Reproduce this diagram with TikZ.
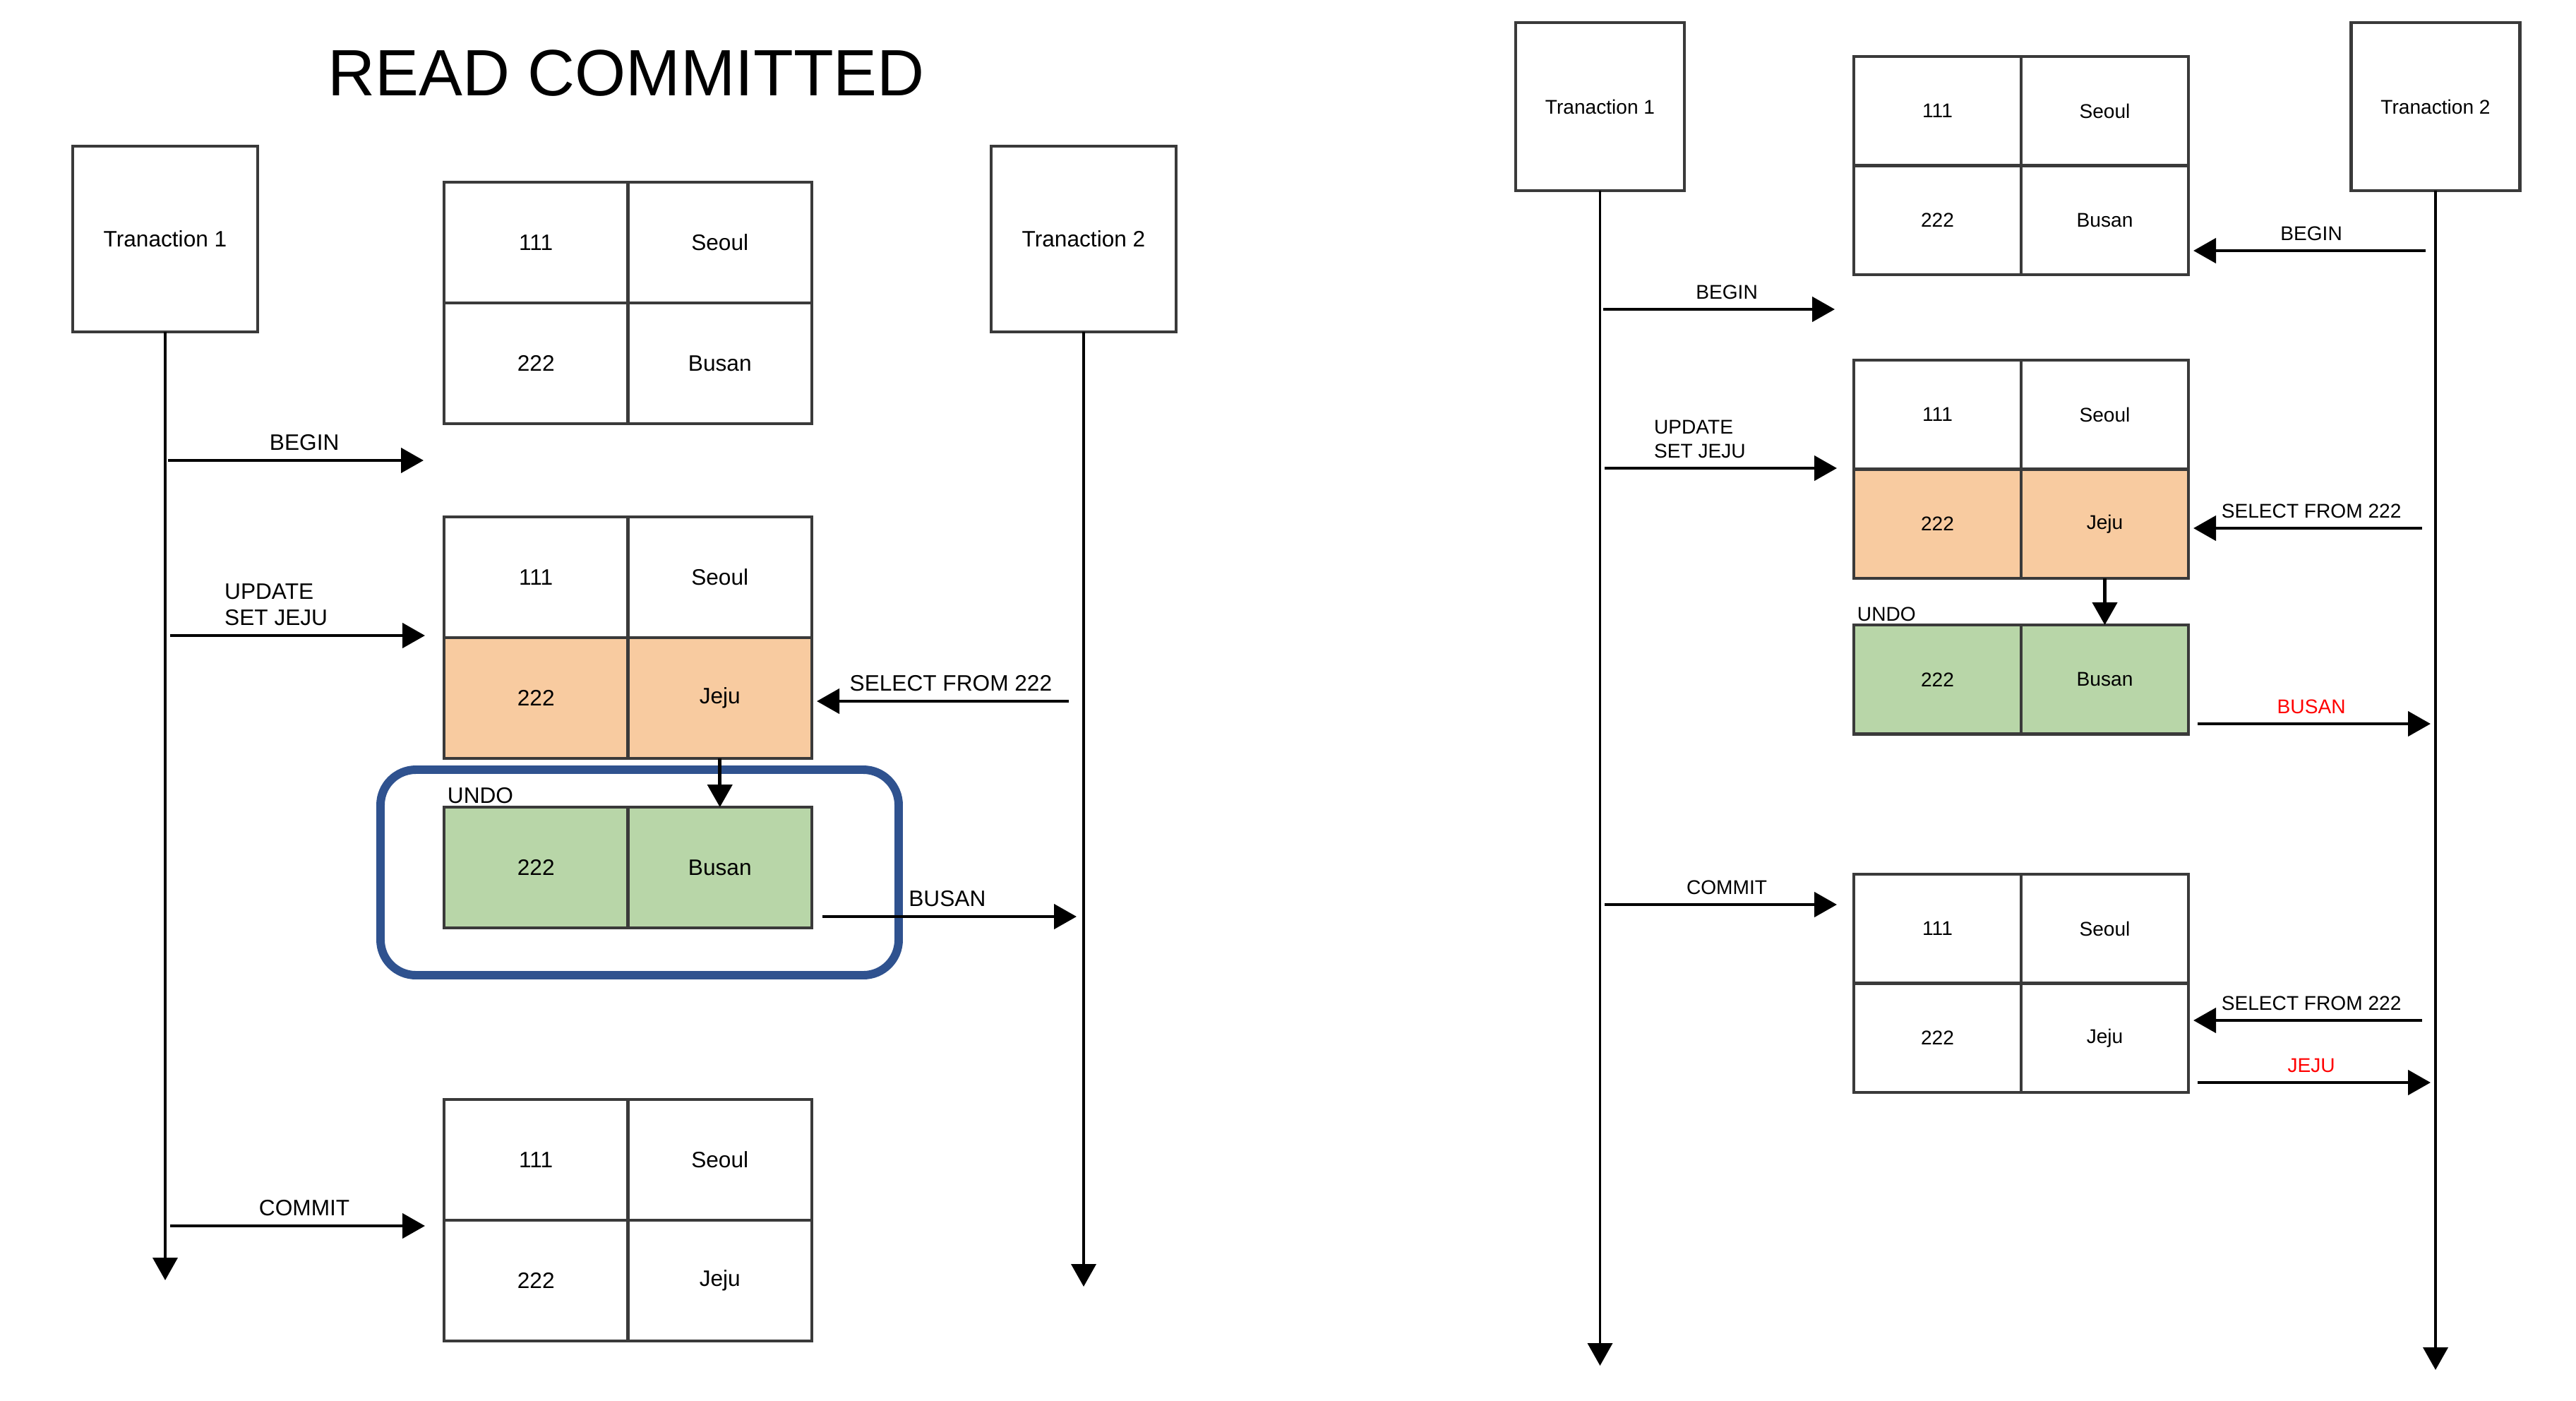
\documentclass[tikz,border=0pt]{standalone}
\usepackage{fontspec}
\setmainfont{Liberation Sans}
\usetikzlibrary{arrows.meta, positioning}
\definecolor{bordeGris}{HTML}{3A3A3A}
\definecolor{naranjaCelda}{HTML}{F8CBA0}
\definecolor{verdeCelda}{HTML}{B8D6A8}
\definecolor{azulMarco}{HTML}{2F528F}
\definecolor{rojoTexto}{HTML}{FF0000}
\tikzset{
  celda/.style={draw=bordeGris, line width=1.2pt, outer sep=0pt, inner sep=0pt,
    fill=white, text=black},
  celdaIzq/.style={celda, minimum width=2.605cm, minimum height=1.71cm,
    font=\fontsize{9}{11}\selectfont},
  celdaDer/.style={celda, minimum width=2.37cm, minimum height=1.545cm,
    font=\fontsize{8}{10}\selectfont},
  celdaNaranja/.style={fill=naranjaCelda},
  celdaVerde/.style={fill=verdeCelda},
  cajaTx/.style={draw=bordeGris, line width=1.2pt, outer sep=0pt, align=center},
  cajaTxIzq/.style={cajaTx, minimum width=2.62cm, minimum height=2.63cm,
    font=\fontsize{9}{11}\selectfont},
  cajaTxDer/.style={cajaTx, minimum width=2.39cm, minimum height=2.38cm,
    font=\fontsize{8}{10}\selectfont},
  titulo/.style={font=\fontsize{26.4}{30}\selectfont},
  vida/.style={-{Triangle[length=3.2mm, width=3.5mm]}, line width=1.1pt, black},
  flecha/.style={-{Triangle[length=3.2mm, width=3.5mm]}, line width=1.3pt, black},
  etiquetaIzq/.style={font=\fontsize{9}{10.5}\selectfont, align=left},
  etiquetaDer/.style={font=\fontsize{8}{9.7}\selectfont, align=left},
  etiquetaRoja/.style={etiquetaDer, text=rojoTexto},
  marcoUndo/.style={draw=azulMarco, line width=3.4pt, rounded corners=0.5cm,
    minimum width=7.34cm, minimum height=2.91cm},
}
\begin{document}
\begin{tikzpicture}
  \fill[white] (0,0) rectangle (36.49,-19.83);

  % ---------------- READ COMMITTED (izquierda)
  \node[titulo] (titulo) at (8.87,-1.04) {READ COMMITTED};
  \node[cajaTxIzq] (txA1) at (2.34,-3.385) {Tranaction 1};
  \node[cajaTxIzq] (txA2) at (15.35,-3.385) {Tranaction 2};
  \coordinate (finA1) at (2.34,-18.13);
  \coordinate (finA2) at (15.35,-18.22);
  \draw[vida] (txA1) -- (finA1);
  \draw[vida] (txA2) -- (finA2);

  \node[celdaIzq, anchor=north west] (a1n1) at (6.29,-2.58) {111};
  \node[celdaIzq, right=0pt of a1n1] (a1c1) {Seoul};
  \node[celdaIzq, below=0pt of a1n1] (a1n2) {222};
  \node[celdaIzq, right=0pt of a1n2] (a1c2) {Busan};

  \node[celdaIzq, anchor=north west] (a2n1) at (6.29,-7.32) {111};
  \node[celdaIzq, right=0pt of a2n1] (a2c1) {Seoul};
  \node[celdaIzq, celdaNaranja, below=0pt of a2n1] (a2n2) {222};
  \node[celdaIzq, celdaNaranja, right=0pt of a2n2] (a2c2) {Jeju};

  \node[marcoUndo] (marco) at (9.06,-12.355) {};
  \node[celdaIzq, celdaVerde, anchor=north west] (a3n1) at (6.29,-11.43) {222};
  \node[celdaIzq, celdaVerde, right=0pt of a3n1] (a3c1) {Busan};
  \node[etiquetaIzq, anchor=south west, inner sep=1.2pt] (undoA) at (a3n1.north west) {UNDO};

  \node[celdaIzq, anchor=north west] (a4n1) at (6.29,-15.57) {111};
  \node[celdaIzq, right=0pt of a4n1] (a4c1) {Seoul};
  \node[celdaIzq, below=0pt of a4n1] (a4n2) {222};
  \node[celdaIzq, right=0pt of a4n2] (a4c2) {Jeju};

  \coordinate (begA) at (2.38,-6.52);
  \coordinate (updA) at (2.41,-9.00);
  \coordinate (selA) at (15.14,-9.93);
  \coordinate (busA) at (11.65,-12.98);
  \coordinate (comA) at (2.41,-17.36);
  \draw[flecha, shorten >=2.9mm] (begA) -- node[etiquetaIzq, pos=.494, above] {BEGIN} (begA -| a1n1.west);
  \draw[flecha, shorten >=2.7mm] (updA) -- node[etiquetaIzq, pos=.387, above] {UPDATE\\SET JEJU} (updA -| a2n1.west);
  \draw[flecha, shorten >=2pt] (selA) -- node[etiquetaIzq, pos=.459, above] {SELECT FROM 222} (selA -| a2c2.east);
  \draw[flecha] (a2c2.south) -- (a3c1.north);
  \draw[flecha, shorten >=1mm] (busA) -- node[etiquetaIzq, pos=.478, above] {BUSAN} (busA -| txA2);
  \draw[flecha, shorten >=2.7mm] (comA) -- node[etiquetaIzq, pos=.49, above] {COMMIT} (comA -| a4n1.west);

  % ---------------- segundo caso (derecha)
  \node[cajaTxDer] (txB1) at (22.665,-1.51) {Tranaction 1};
  \node[cajaTxDer] (txB2) at (34.50,-1.51) {Tranaction 2};
  \coordinate (finB1) at (22.665,-19.34);
  \coordinate (finB2) at (34.50,-19.40);
  \draw[vida] (txB1) -- (finB1);
  \draw[vida] (txB2) -- (finB2);

  \node[celdaDer, anchor=north west] (b1n1) at (26.26,-0.80) {111};
  \node[celdaDer, right=0pt of b1n1] (b1c1) {Seoul};
  \node[celdaDer, below=0pt of b1n1] (b1n2) {222};
  \node[celdaDer, right=0pt of b1n2] (b1c2) {Busan};

  \node[celdaDer, anchor=north west] (b2n1) at (26.26,-5.10) {111};
  \node[celdaDer, right=0pt of b2n1] (b2c1) {Seoul};
  \node[celdaDer, celdaNaranja, below=0pt of b2n1] (b2n2) {222};
  \node[celdaDer, celdaNaranja, right=0pt of b2n2] (b2c2) {Jeju};

  \node[celdaDer, celdaVerde, anchor=north west] (b3n1) at (26.26,-8.85) {222};
  \node[celdaDer, celdaVerde, right=0pt of b3n1] (b3c1) {Busan};
  \node[etiquetaDer, anchor=south west, inner sep=1.2pt] (undoB) at (b3n1.north west) {UNDO};

  \node[celdaDer, anchor=north west] (b4n1) at (26.26,-12.38) {111};
  \node[celdaDer, right=0pt of b4n1] (b4c1) {Seoul};
  \node[celdaDer, below=0pt of b4n1] (b4n2) {222};
  \node[celdaDer, right=0pt of b4n2] (b4c2) {Jeju};

  \coordinate (begB2) at (34.36,-3.55);
  \coordinate (begB1) at (22.71,-4.38);
  \coordinate (updB) at (22.73,-6.63);
  \coordinate (selB) at (34.31,-7.48);
  \coordinate (busB) at (31.13,-10.25);
  \coordinate (comB) at (22.73,-12.81);
  \coordinate (selB2) at (34.31,-14.45);
  \coordinate (jejB) at (31.13,-15.33);
  \draw[flecha, shorten >=2pt] (begB2) -- node[etiquetaDer, pos=.482, above] {BEGIN} (begB2 -| b1c2.east);
  \draw[flecha, shorten >=2.7mm] (begB1) -- node[etiquetaDer, pos=.493, above] {BEGIN} (begB1 -| b1n1.west);
  \draw[flecha, shorten >=2.4mm] (updB) -- node[etiquetaDer, pos=.382, above] {UPDATE\\SET JEJU} (updB -| b2n1.west);
  \draw[flecha, shorten >=2pt] (selB) -- node[etiquetaDer, pos=.474, above] {SELECT FROM 222} (selB -| b2c2.east);
  \draw[flecha] (b2c2.south) -- (b3c1.north);
  \draw[flecha, shorten >=2pt] (busB) -- node[etiquetaRoja, pos=.478, above] {BUSAN} (busB -| txB2);
  \draw[flecha, shorten >=2.4mm] (comB) -- node[etiquetaDer, pos=.49, above] {COMMIT} (comB -| b4n1.west);
  \draw[flecha, shorten >=2pt] (selB2) -- node[etiquetaDer, pos=.474, above] {SELECT FROM 222} (selB2 -| b4c2.east);
  \draw[flecha, shorten >=2pt] (jejB) -- node[etiquetaRoja, pos=.478, above] {JEJU} (jejB -| txB2);
\end{tikzpicture}
\end{document}
